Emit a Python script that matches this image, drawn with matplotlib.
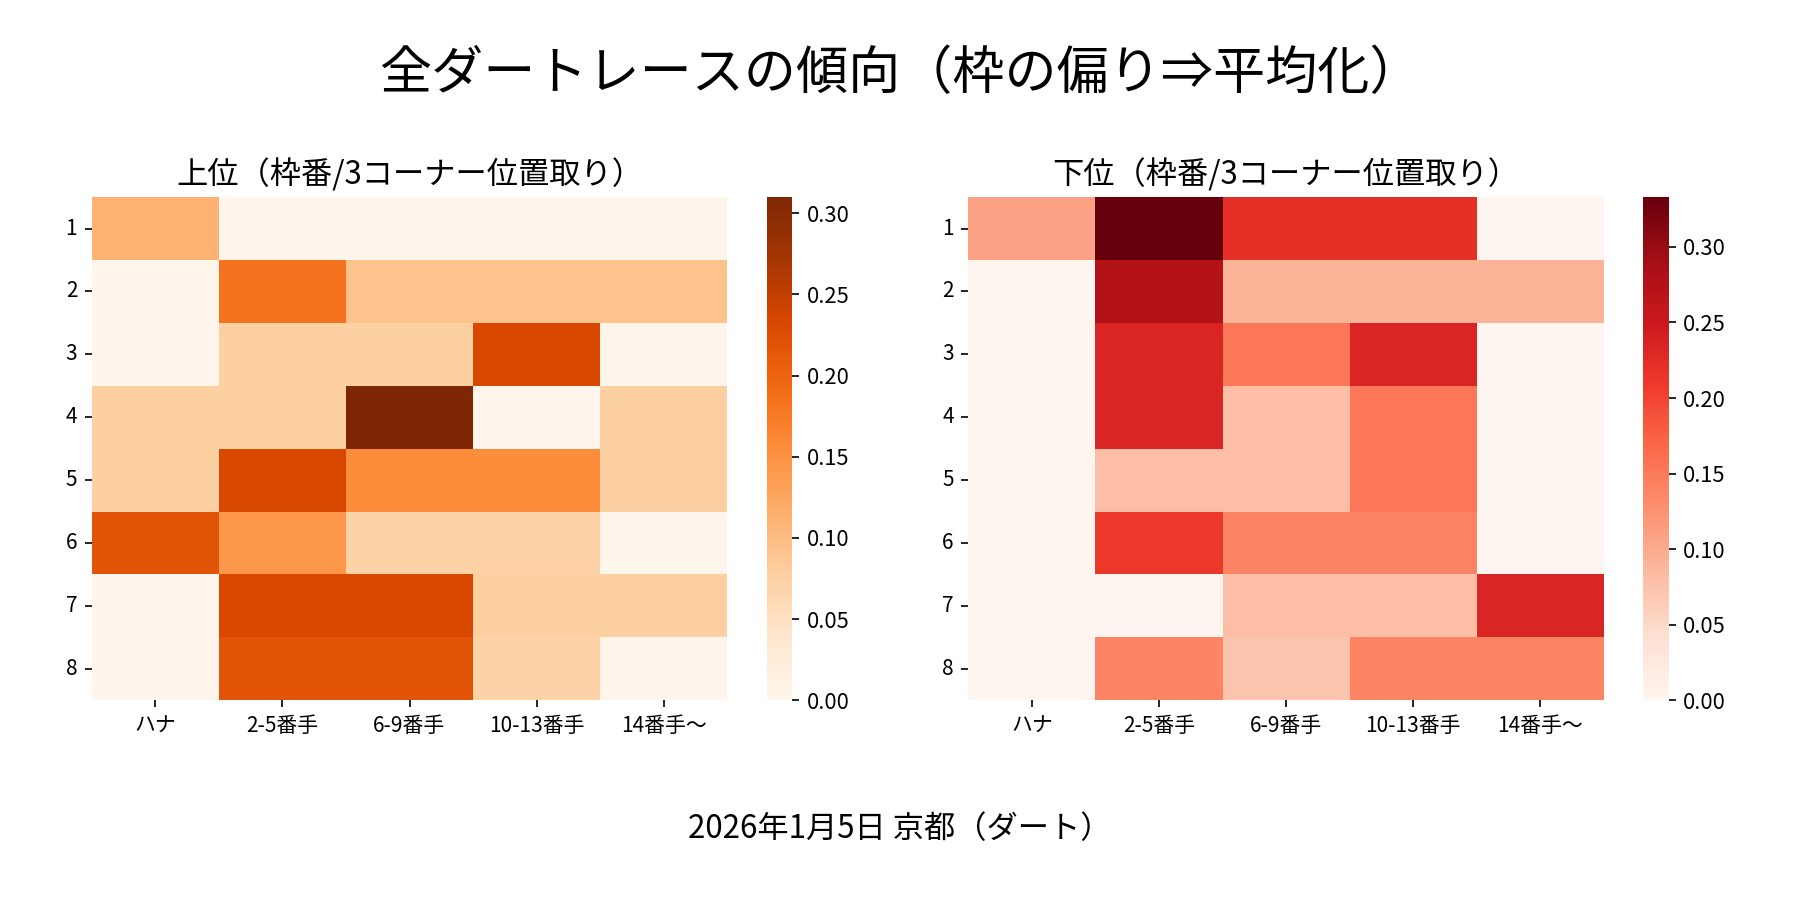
import matplotlib
matplotlib.use("Agg")
import matplotlib.pyplot as plt
import numpy as np
import seaborn as sns

plt.rcParams["font.family"] = ["Noto Sans CJK JP", "DejaVu Sans"]

WAKU = ["1", "2", "3", "4", "5", "6", "7", "8"]
POSITIONS = ["ハナ", "2-5番手", "6-9番手", "10-13番手", "14番手〜"]

# 上位: 枠番 x 3コーナー位置取り の割合
upper = [
    [0.112, 0.000, 0.000, 0.000, 0.000],
    [0.000, 0.183, 0.093, 0.093, 0.093],
    [0.000, 0.078, 0.078, 0.233, 0.000],
    [0.078, 0.078, 0.310, 0.000, 0.078],
    [0.078, 0.233, 0.155, 0.155, 0.078],
    [0.217, 0.143, 0.074, 0.074, 0.000],
    [0.000, 0.233, 0.233, 0.078, 0.078],
    [0.000, 0.217, 0.217, 0.074, 0.000],
]

# 下位
lower = [
    [0.110, 0.333, 0.220, 0.220, 0.000],
    [0.000, 0.277, 0.090, 0.090, 0.090],
    [0.000, 0.233, 0.153, 0.233, 0.000],
    [0.000, 0.233, 0.080, 0.153, 0.000],
    [0.000, 0.080, 0.080, 0.153, 0.000],
    [0.000, 0.212, 0.140, 0.140, 0.000],
    [0.000, 0.000, 0.080, 0.080, 0.233],
    [0.000, 0.140, 0.074, 0.140, 0.140],
]

fig = plt.figure(figsize=(12, 6), dpi=150)

panels = [
    (upper, "Oranges", "上位（枠番/3コーナー位置取り）", 0.051, 0.426),
    (lower, "Reds", "下位（枠番/3コーナー位置取り）", 0.538, 0.913),
]

for data, cmap, title, ax_x, cb_x in panels:
    ax = fig.add_axes([ax_x, 0.222, 0.353, 0.559])
    cax = fig.add_axes([cb_x, 0.222, 0.014, 0.559])
    sns.heatmap(
        np.array(data),
        ax=ax,
        cbar_ax=cax,
        cmap=cmap,
        xticklabels=POSITIONS,
        yticklabels=WAKU,
    )
    ax.set_title(title, fontsize=15)
    ax.tick_params(axis="both", labelsize=10)
    ax.set_yticklabels(WAKU, rotation=0)
    ax.set_xticklabels(POSITIONS, rotation=0)
    cax.tick_params(labelsize=10.5)

fig.suptitle("全ダートレースの傾向（枠の偏り⇒平均化）", fontsize=25, y=0.917, va="center")
fig.text(0.5, 0.079, "2026年1月5日 京都（ダート）", ha="center", va="center", fontsize=15)

fig.savefig("out.png", dpi=150)
